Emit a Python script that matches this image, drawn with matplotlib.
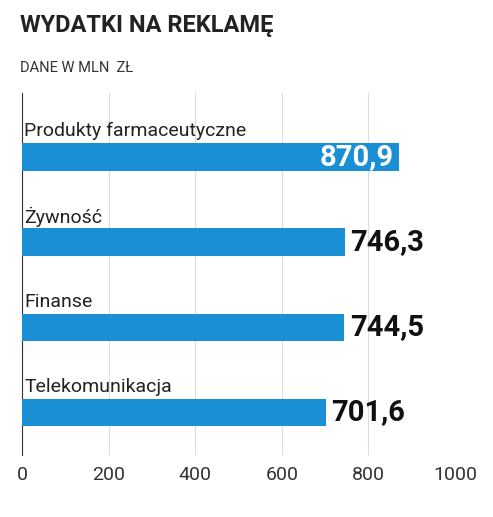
import matplotlib
matplotlib.use("Agg")
import matplotlib.pyplot as plt

categories = ["Produkty farmaceutyczne", "Żywność", "Finanse", "Telekomunikacja"]
values = [870.9, 746.3, 744.5, 701.6]
labels = ["870,9", "746,3", "744,5", "701,6"]
ticks = [0, 200, 400, 600, 800, 1000]

plt.rcParams['font.family'] = ['Roboto', 'DejaVu Sans']
fig = plt.figure(figsize=(4.93, 5.17), dpi=100)
ax = fig.add_axes([0.045, 0.12, 0.878, 0.7])
color = "#1b8fd6"
ys = list(range(len(categories)))
ax.barh(ys, values, height=0.32, color=color, zorder=3)
for y, c, v, l in zip(ys, categories, values, labels):
    ax.text(5, y - 0.3, c, fontsize=14, va="center", ha="left", color="#222222")
    if y == 0:
        ax.text(v - 12, y, l, fontsize=21, fontweight="bold", color="white", va="center", ha="right", zorder=4)
    else:
        ax.text(v + 12, y, l, fontsize=21, fontweight="bold", color="#111111", va="center", ha="left", zorder=4)
ax.set_ylim(3.5, -0.75)
ax.set_xlim(0, 1000)
ax.set_xticks(ticks)
ax.set_xticklabels([str(t) for t in ticks], fontsize=14, color="#333333")
ax.set_yticks([])
ax.grid(axis="x", color="#dddddd", lw=0.8, zorder=0)
for s in ["top", "right", "bottom"]:
    ax.spines[s].set_visible(False)
ax.spines["left"].set_color("#333333")
ax.tick_params(axis="x", length=0, pad=8)
fig.text(0.04, 0.95, "WYDATKI NA REKLAMĘ", fontsize=17, fontweight="bold", color="#222222", va="center")
fig.text(0.04, 0.868, "DANE W MLN  ZŁ", fontsize=10.5, color="#333333", va="center")
fig.savefig("out.png", dpi=100)
